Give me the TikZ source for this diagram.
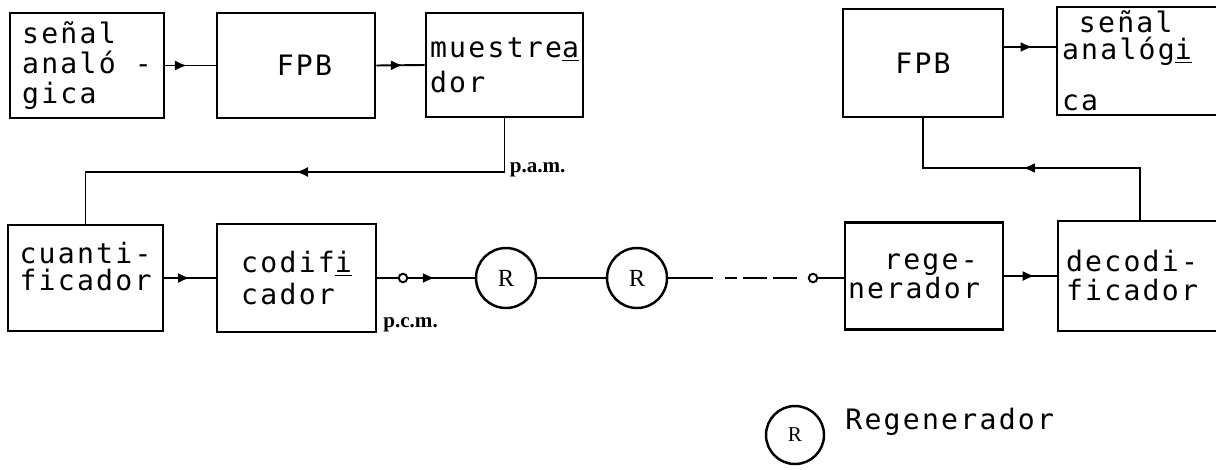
\documentclass[tikz,border=0pt]{standalone}
\usepackage{fontspec}
\usepackage{tikz}
\usetikzlibrary{arrows.meta,decorations.markings}
\newfontfamily\maquina[LetterSpace=8]{DejaVu Sans Mono}
\newfontfamily\imprenta{Liberation Serif}

\begin{document}
\begin{tikzpicture}[
      x=0.2mm, y=-0.2mm,
      bloque/.style 2 args={draw, line width=1.6pt, minimum width=#1, minimum height=#2, align=left, inner sep=0pt, font=\maquina\fontsize{16}{17}\selectfont},
      linea/.style={line width=1.1pt},
      flecha/.style={linea, postaction={decorate}, decoration={markings, mark=at position #1 with {\arrow{Latex[length=2.4mm, width=2mm]}}}},
      repetidor/.style={circle, draw, line width=1.4pt, minimum size=12mm, inner sep=0pt, font=\imprenta\fontsize{14}{14}\selectfont},
      borne/.style={circle, draw, line width=1.1pt, fill=white, minimum size=1.7mm, inner sep=0pt},
      rotulo/.style={font=\imprenta\bfseries\fontsize{12}{12}\selectfont, anchor=base west, inner sep=0pt}
  ]
    \useasboundingbox (0,0) rectangle (1216,469);
    \clip (0,0) rectangle (1216,469);

    \node[bloque={30.8mm}{21mm}] (senal) at (87,65.5) {señal\\analó -\\gica};
    \node[bloque={31.6mm}{21mm}] (fpb) at (296,65.5) {\hphantom{a}FPB};
    \node[bloque={31.4mm}{20.8mm}] (muestreador) at (504.5,65) {muestre\underline{a}\\[3pt]dor};
    \node[bloque={31mm}{21.2mm}] (cuantificador) at (85.5,278) {cuanti-\\[-1.5pt]ficador\\[-4pt]\mbox{}};
    \node[bloque={31.8mm}{21.6mm}] (codificador) at (296.5,278) {codif\underline{i}\\[1pt]cador};
    \node[bloque={31.6mm}{21.4mm}, text width=30.4mm, inner xsep=0.6mm] (regenerador) at (924,276) {\hphantom{aa}rege-\\[-0.5pt]nerador};
    \node[bloque={32.8mm}{22mm}, text width=29.6mm, inner xsep=1.6mm] (decodificador) at (1140,276) {decodi-\\[-0.5pt]ficador};
    \node[bloque={32mm}{21.6mm}] (fpbb) at (923,63) {FPB};
    \node[bloque={36mm}{21.6mm}, text width=34mm, inner xsep=1mm] (senalb) at (1147,61) {\hphantom{a}señal\\[-1.5pt]analóg\underline{i}\\[12pt]ca};

    \draw[flecha=0.43] (senal.east) -- (fpb.west);
    \draw[flecha=0.55] (fpb.east) -- (muestreador.west);
    \coordinate (pam) at (muestreador.south |- 0,172);
    \draw[flecha=0.5] (muestreador.south) -- (pam) -| (cuantificador.north);
    \node[rotulo, xshift=1mm] (lpam) at (pam) {p.a.m.};

    \node[borne] (sal) at (403,278) {};
    \node[repetidor] (r1) at (506,278) {R};
    \node[repetidor] (r2) at (637,278) {R};
    \coordinate (corte) at (713,278);
    \node[borne] (ent) at (813,278) {};

    \draw[flecha=0.5] (cuantificador.east) -- (codificador.west);
    \draw[linea] (codificador.east) -- (sal);
    \draw[flecha=0.4] (sal) -- (r1);
    \draw[linea] (r1) -- (r2);
    \draw[linea] (r2) -- (corte);
    \draw[linea, dash pattern=on 0pt off 6.8pt on 6.8pt off 3.4pt on 13.7pt off 3.4pt on 13.7pt off 10pt] (corte) -- (ent);
    \draw[linea] (ent) -- (ent -| regenerador.west);
    \node[rotulo] (lpcm) at (383,327) {p.c.m.};

    \draw[flecha=0.58] (regenerador.east) -- (decodificador.west);
    \coordinate (pcb) at (decodificador.north |- 0,168);
    \draw[flecha=0.53] (decodificador.north) -- (pcb) -| (fpbb.south);
    \draw[flecha=0.55] (fpbb.east |- 0,47) -- (senalb.west |- 0,47);

    \node[repetidor, minimum size=11.6mm, font=\imprenta\fontsize{12}{12}\selectfont] (leyenda) at (795,435) {R};
    \node[anchor=base west, inner sep=0pt, font=\maquina\fontsize{16}{17}\selectfont] (lregen) at (845,429) {Regenerador};
\end{tikzpicture}
\end{document}
